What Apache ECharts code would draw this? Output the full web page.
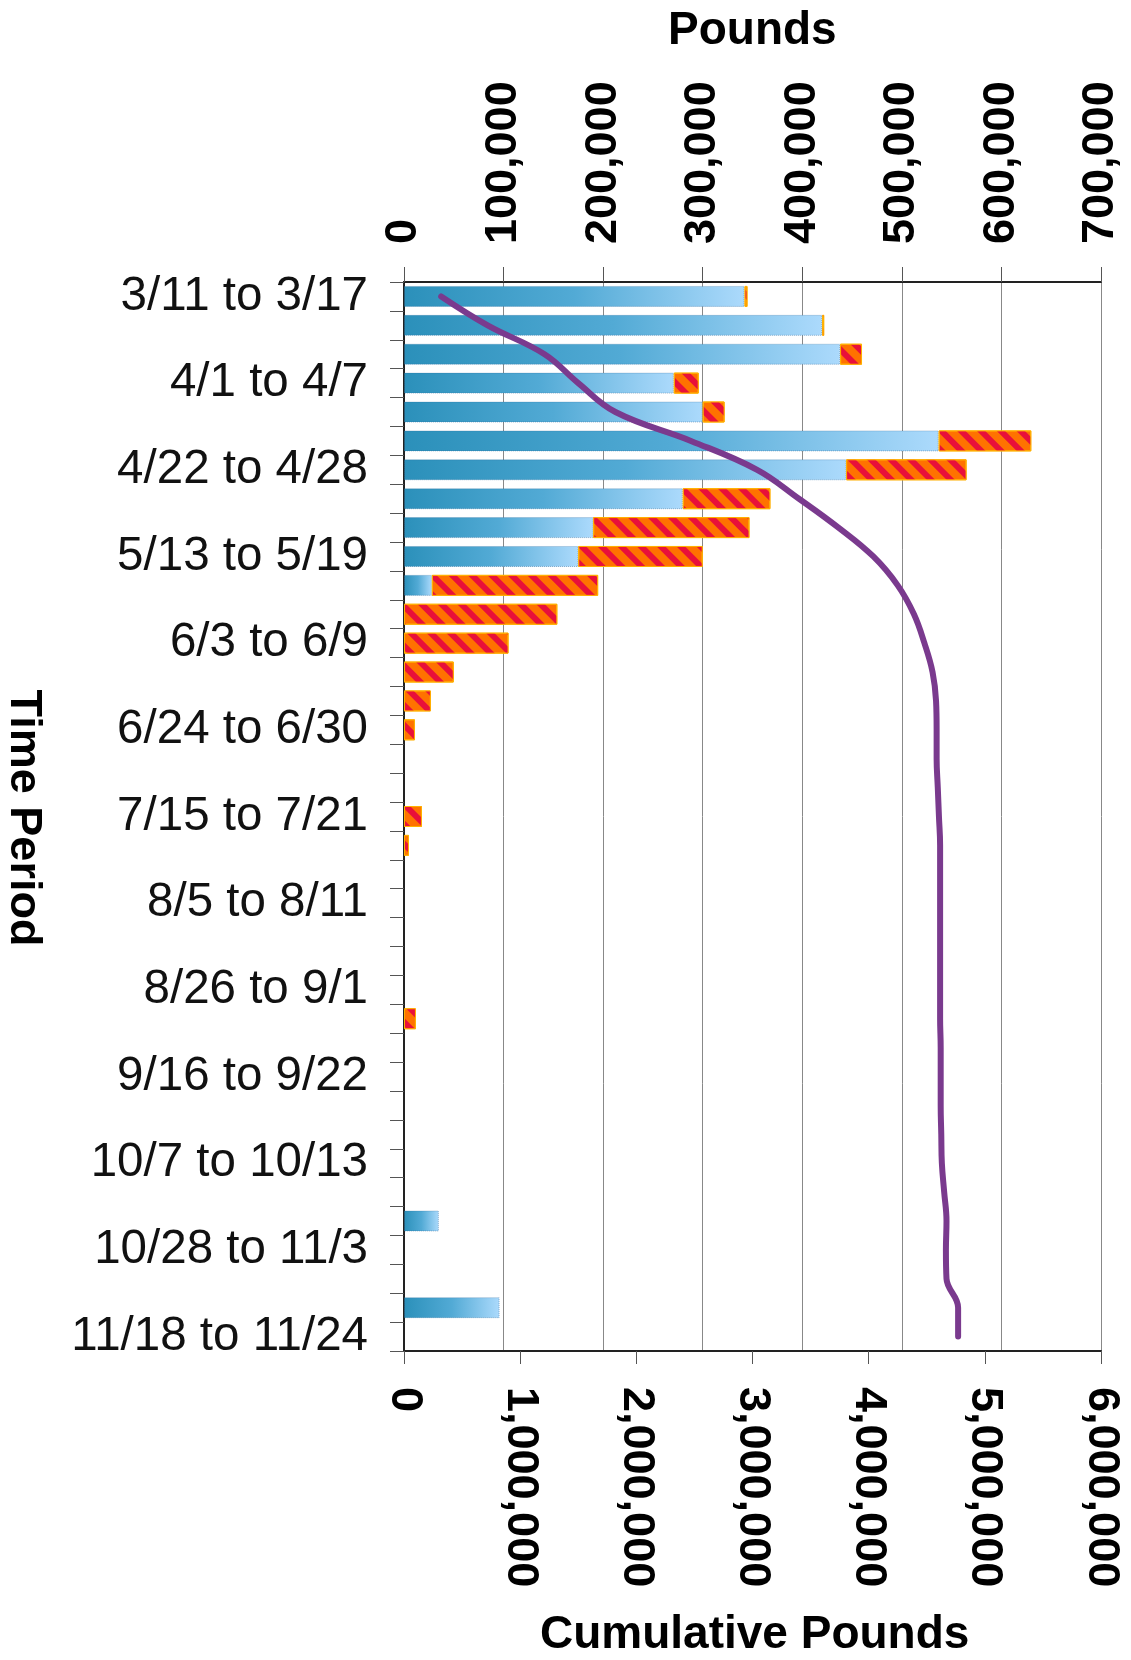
<!DOCTYPE html>
<html><head><meta charset="utf-8">
<script src="https://cdn.jsdelivr.net/npm/echarts@6/dist/echarts.min.js"></script>
<style>html,body{margin:0;padding:0;background:#fff}#c{width:1131px;height:1660px}</style>
</head><body><div id="c"></div>
<script>
const categories = ['3/11 to 3/17','3/18 to 3/24','3/25 to 3/31','4/1 to 4/7','4/8 to 4/14','4/15 to 4/21','4/22 to 4/28','4/29 to 5/5','5/6 to 5/12','5/13 to 5/19','5/20 to 5/26','5/27 to 6/2','6/3 to 6/9','6/10 to 6/16','6/17 to 6/23','6/24 to 6/30','7/1 to 7/7','7/8 to 7/14','7/15 to 7/21','7/22 to 7/28','7/29 to 8/4','8/5 to 8/11','8/12 to 8/18','8/19 to 8/25','8/26 to 9/1','9/2 to 9/8','9/9 to 9/15','9/16 to 9/22','9/23 to 9/29','9/30 to 10/6','10/7 to 10/13','10/14 to 10/20','10/21 to 10/27','10/28 to 11/3','11/4 to 11/10','11/11 to 11/17','11/18 to 11/24'];
const bluePounds = [342000,420000,438000,271000,300000,537000,444000,280000,190000,175000,28000,0,0,0,0,0,0,0,0,0,0,0,0,0,0,0,0,0,0,0,0,0,35000,0,0,96000,0];
const hatchedPounds = [3000,2000,22000,25000,22000,93000,121000,88000,157000,125000,167000,154000,105000,50000,27000,11000,0,0,18000,5000,0,0,0,0,0,12000,0,0,0,0,0,0,0,0,0,0,0];
const cumulativePounds = [320000,720000,1210000,1500000,1820000,2470000,3040000,3400000,3740000,4040000,4250000,4390000,4480000,4550000,4580000,4585000,4585000,4595000,4605000,4615000,4615000,4615000,4615000,4615000,4615000,4615000,4620000,4620000,4620000,4625000,4630000,4650000,4670000,4665000,4670000,4770000,4770000];
const poundsAxis = {min: 0, max: 700000, interval: 100000};
const cumulativeAxis = {min: 0, max: 6000000, interval: 1000000};

const fmt = v => Number(v).toLocaleString('en-US');
const noZero = arr => arr.map(v => (v === 0 ? '-' : v));
const FONT = '"Liberation Sans", Arial, Helvetica, sans-serif';
const chart = echarts.init(document.getElementById('c'), null, {renderer: 'canvas'});
chart.setOption({
  backgroundColor: '#fff',
  animation: false,
  grid: {left: 404, right: 30, top: 282, bottom: 309, containLabel: false},
  xAxis: [
    {
      type: 'value', position: 'top', min: poundsAxis.min, max: poundsAxis.max, interval: poundsAxis.interval,
      axisLine: {show: true, onZero: false, lineStyle: {color: '#222', width: 2}},
      axisTick: {show: true, length: 15, lineStyle: {color: '#555', width: 1}},
      splitLine: {show: true, lineStyle: {color: '#888', width: 1}},
      axisLabel: {rotate: -90, margin: 38, formatter: fmt, color: '#000', fontFamily: FONT, fontWeight: 'bold', fontSize: 45}
    },
    {
      type: 'value', position: 'bottom', min: cumulativeAxis.min, max: cumulativeAxis.max, interval: cumulativeAxis.interval,
      axisLine: {show: true, onZero: false, lineStyle: {color: '#222', width: 2}},
      axisTick: {show: true, length: 13, lineStyle: {color: '#555', width: 1}},
      splitLine: {show: false},
      axisLabel: {rotate: -90, margin: 36, formatter: fmt, color: '#000', fontFamily: FONT, fontWeight: 'bold', fontSize: 45}
    }
  ],
  yAxis: {
    type: 'category', data: categories, inverse: true,
    axisLine: {show: true, onZero: false, lineStyle: {color: '#222', width: 2}},
    axisTick: {show: true, interval: 0, length: 14, lineStyle: {color: '#555', width: 1}},
    axisLabel: {interval: 2, margin: 36, color: '#111', fontFamily: FONT, fontSize: 47.5},
    splitLine: {show: false}
  },
  graphic: [
    {type: 'text', style: {text: 'Pounds', font: 'bold 46px ' + FONT, fill: '#000'}, left: 668, top: 8},
    {type: 'text', style: {text: 'Cumulative Pounds', font: 'bold 46px ' + FONT, fill: '#000'}, left: 540, top: 1612},
    {type: 'text', style: {text: 'Time Period', font: 'bold 45px ' + FONT, fill: '#000', align: 'center', verticalAlign: 'middle'}, x: 23, y: 818, rotation: -Math.PI / 2}
  ],
  series: [
    {
      name: 'Pounds A', type: 'bar', stack: 'w', xAxisIndex: 0, barWidth: 21, data: noZero(bluePounds),
      itemStyle: {
        color: new echarts.graphic.LinearGradient(0, 0, 1, 0, [
          {offset: 0, color: '#2b90ba'}, {offset: 0.5, color: '#52aad5'}, {offset: 1, color: '#acdafc'}
        ]),
        borderColor: 'rgba(40,100,150,0.45)', borderWidth: 1, borderType: 'dotted'
      }
    },
    {
      name: 'Pounds B', type: 'bar', stack: 'w', xAxisIndex: 0, barWidth: 21, data: noZero(hatchedPounds),
      itemStyle: {
        color: '#ff7200', borderColor: '#ffb000', borderWidth: 1,
        decal: {symbol: 'rect', symbolSize: 1, color: '#e8103a', dashArrayX: [1, 0], dashArrayY: [6, 8], rotation: Math.PI / 4}
      }
    },
    {
      name: 'Cumulative', type: 'line', xAxisIndex: 1, data: cumulativePounds, smooth: 0.4,
      showSymbol: false, symbol: 'none', z: 5,
      lineStyle: {color: '#7a3a8e', width: 6, cap: 'round'}
    }
  ]
});
</script></body></html>
